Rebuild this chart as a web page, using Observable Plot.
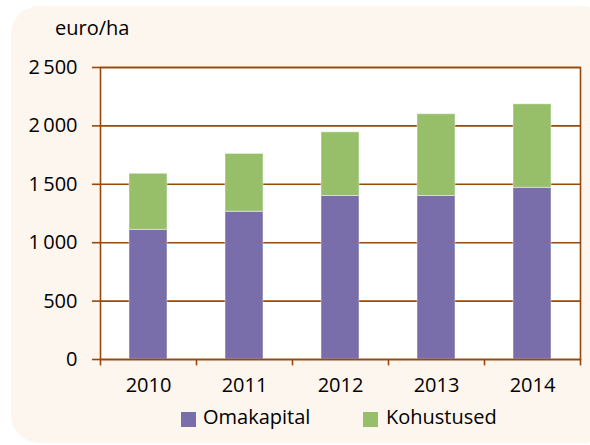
<!DOCTYPE html>
<html>
<head>
<meta charset="utf-8">
<script src="https://cdn.jsdelivr.net/npm/d3@7"></script>
<script src="https://cdn.jsdelivr.net/npm/@observablehq/plot@0.6"></script>
<style>
  html, body { margin: 0; padding: 0; background: #ffffff; overflow: hidden; }
  #wrap { position: relative; width: 590px; height: 445px; font-family: "Open Sans", "Noto Sans", sans-serif; }
  #panel { position: absolute; left: 11px; top: 6px; width: 600px; height: 437px; background: #fdf6ef; border-radius: 28px; }
  #chart { position: absolute; left: 0; top: 0; }
  #ylabel { position: absolute; left: 55px; top: 15px; font-size: 20px; line-height: 26px; color: #000; }
  #legend { position: absolute; left: 0; top: 400px; width: 590px; height: 45px; font-size: 20px; color: #000; }
  .sw { position: absolute; width: 15px; height: 15px; }
  .lb { position: absolute; line-height: 26px; }
</style>
</head>
<body>
<div id="wrap">
  <div id="panel"></div>
  <div id="chart"></div>
  <div id="ylabel"></div>
  <div id="legend"></div>
</div>
<script>
const years = ["2010", "2011", "2012", "2013", "2014"];
const series = ["Omakapital", "Kohustused"];
const omakapital = [1110, 1265, 1400, 1400, 1470];
const kohustused = [480, 495, 545, 700, 715];
const colors = ["#7a6eaa", "#97bf6a"];
const yTicks = [0, 500, 1000, 1500, 2000, 2500];
const yLabel = "euro/ha";

const values = [omakapital, kohustused];
const data = [];
series.forEach((s, i) => years.forEach((yr, j) => data.push({year: yr, series: s, value: values[i][j]})));

const brown = "#984807";
const fmt = d => d3.format(",")(d).replace(/,/g, "\u2009");

const chart = Plot.plot({
  width: 590,
  height: 400,
  marginLeft: 100,
  marginRight: 10,
  marginTop: 67,
  marginBottom: 41,
  style: {background: "transparent", fontFamily: "'Open Sans', 'Noto Sans', sans-serif", fontSize: "20px", color: "#000"},
  x: {domain: years, paddingInner: 0.6, paddingOuter: 0.3},
  y: {domain: [0, 2500]},
  color: {domain: series, range: colors},
  marks: [
    Plot.frame({fill: "white", stroke: "none"}),
    Plot.gridY(yTicks, {stroke: brown, strokeOpacity: 1, strokeWidth: 1.6}),
    Plot.barY(data, {x: "year", y: "value", fill: "series", stroke: "white", strokeOpacity: 0.45, strokeWidth: 1}),
    Plot.axisY(yTicks, {tickSize: 8, tickPadding: 15, stroke: brown, strokeWidth: 1.6, tickFormat: fmt, label: null, fontSize: 20, fill: "#000"}),
    Plot.axisX({tickSize: 0, tickPadding: 18, label: null, fontSize: 20, fill: "#000"}),
    Plot.ruleX(years, {x: d => d, y1: 0, y2: -55, dx: -48, stroke: brown, strokeWidth: 1.6}),
    Plot.ruleX([years[years.length - 1]], {x: d => d, y1: 0, y2: -55, dx: 48, stroke: brown, strokeWidth: 1.6}),
    Plot.frame({stroke: brown, strokeWidth: 1.6})
  ]
});
document.getElementById("chart").appendChild(chart);
document.getElementById("ylabel").textContent = yLabel;

const legend = document.getElementById("legend");
const pos = [{sx: 181, tx: 203}, {sx: 363, tx: 386}];
series.forEach((s, i) => {
  const sw = document.createElement("div");
  sw.className = "sw";
  sw.style.left = pos[i].sx + "px";
  sw.style.top = "12px";
  sw.style.background = colors[i];
  legend.appendChild(sw);
  const lb = document.createElement("div");
  lb.className = "lb";
  lb.style.left = pos[i].tx + "px";
  lb.style.top = "4px";
  lb.textContent = s;
  legend.appendChild(lb);
});
</script>
</body>
</html>
